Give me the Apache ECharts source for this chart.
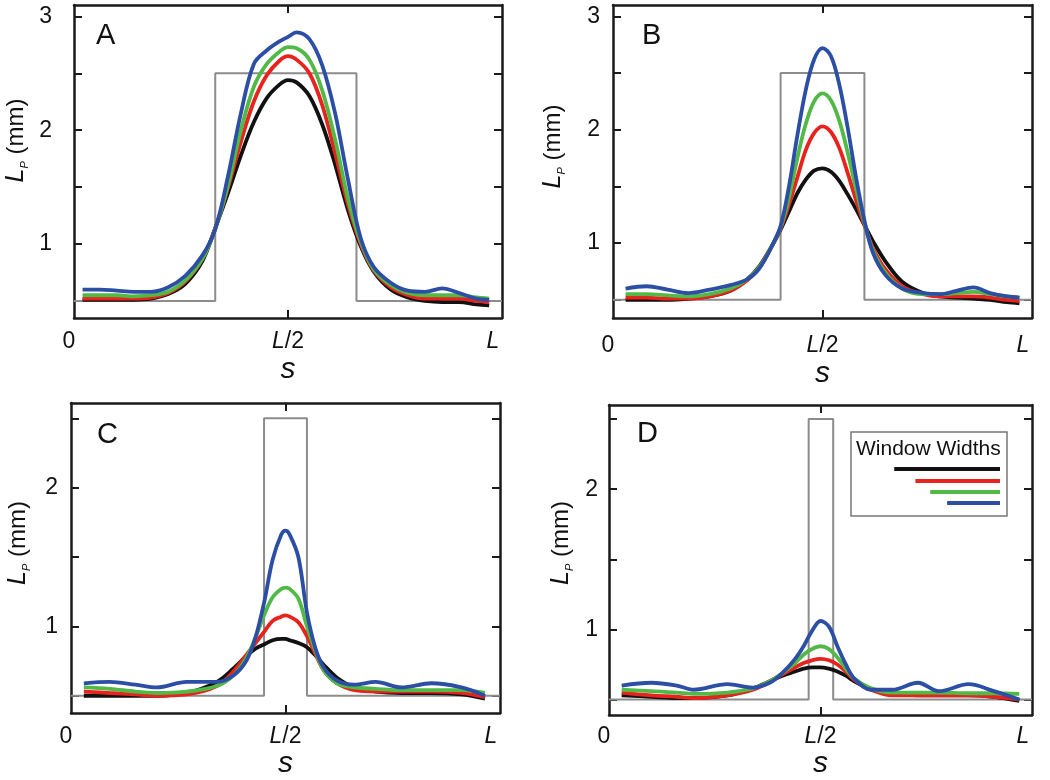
<!DOCTYPE html>
<html>
<head>
<meta charset="utf-8">
<script src="https://cdn.jsdelivr.net/npm/echarts@6/dist/echarts.min.js"></script>
<style>html,body{margin:0;padding:0;background:#fff;}#c{width:1050px;height:780px;}</style>
</head>
<body>
<div id="c"></div>
<script>
// ---------- data ----------
const sA = [0.02,0.06,0.10,0.14,0.18,0.22,0.26,0.30,0.33,0.36,0.39,0.42,0.45,0.48,0.50,0.52,0.55,0.58,0.61,0.64,0.67,0.70,0.74,0.78,0.82,0.86,0.90,0.94,0.97];
const blackA = [0.51,0.51,0.51,0.51,0.52,0.56,0.65,0.85,1.14,1.45,1.78,2.07,2.28,2.40,2.44,2.42,2.30,2.05,1.70,1.30,0.98,0.76,0.60,0.53,0.50,0.49,0.49,0.47,0.46];
const redA   = [0.52,0.52,0.52,0.52,0.53,0.57,0.67,0.87,1.14,1.50,1.90,2.25,2.48,2.61,2.65,2.62,2.50,2.22,1.80,1.35,1.00,0.77,0.62,0.55,0.52,0.52,0.52,0.50,0.49];
const greenA = [0.55,0.55,0.55,0.54,0.55,0.58,0.68,0.87,1.13,1.52,2.00,2.38,2.58,2.69,2.73,2.72,2.62,2.35,1.92,1.40,1.02,0.78,0.64,0.57,0.55,0.55,0.55,0.53,0.52];
const blueA  = [0.60,0.60,0.59,0.58,0.58,0.62,0.72,0.90,1.13,1.60,2.15,2.58,2.70,2.78,2.82,2.86,2.80,2.57,2.15,1.57,1.05,0.80,0.66,0.59,0.58,0.61,0.57,0.52,0.51];

const sB = [0.03,0.08,0.13,0.18,0.23,0.28,0.32,0.35,0.38,0.40,0.42,0.44,0.46,0.48,0.50,0.52,0.54,0.56,0.58,0.60,0.62,0.65,0.69,0.74,0.78,0.82,0.86,0.90,0.94,0.97];
const blackB = [0.50,0.50,0.50,0.51,0.53,0.58,0.68,0.80,0.98,1.12,1.28,1.44,1.56,1.64,1.66,1.63,1.55,1.43,1.30,1.16,1.02,0.84,0.66,0.56,0.53,0.52,0.51,0.50,0.48,0.47];
const redB   = [0.52,0.52,0.51,0.51,0.53,0.58,0.67,0.79,0.98,1.13,1.34,1.58,1.82,1.97,2.03,1.98,1.84,1.62,1.38,1.16,0.96,0.77,0.62,0.55,0.53,0.53,0.53,0.52,0.50,0.49];
const greenB = [0.55,0.55,0.54,0.53,0.55,0.60,0.68,0.79,0.98,1.14,1.40,1.75,2.05,2.25,2.32,2.26,2.08,1.80,1.48,1.18,0.94,0.74,0.60,0.55,0.55,0.56,0.57,0.55,0.53,0.52];
const blueB  = [0.60,0.62,0.59,0.56,0.59,0.63,0.68,0.78,0.98,1.15,1.50,1.95,2.35,2.62,2.72,2.65,2.40,2.02,1.58,1.20,0.92,0.72,0.60,0.56,0.55,0.58,0.61,0.56,0.53,0.52];

const sC = [0.03,0.09,0.15,0.20,0.27,0.34,0.38,0.41,0.43,0.45,0.47,0.49,0.50,0.51,0.53,0.55,0.57,0.59,0.62,0.66,0.71,0.77,0.84,0.91,0.965];
const blackC = [0.50,0.50,0.50,0.50,0.52,0.60,0.70,0.79,0.84,0.87,0.90,0.91,0.91,0.90,0.88,0.85,0.79,0.72,0.63,0.56,0.53,0.52,0.52,0.51,0.48];
const redC   = [0.53,0.52,0.51,0.50,0.51,0.57,0.68,0.80,0.88,0.96,1.04,1.07,1.08,1.07,1.03,0.93,0.80,0.68,0.59,0.54,0.53,0.53,0.53,0.52,0.49];
const greenC = [0.56,0.55,0.53,0.52,0.53,0.57,0.65,0.78,0.92,1.08,1.21,1.27,1.28,1.27,1.20,1.00,0.82,0.68,0.59,0.56,0.55,0.54,0.54,0.54,0.52];
const blueC  = [0.59,0.60,0.58,0.56,0.60,0.60,0.65,0.76,0.92,1.17,1.48,1.66,1.69,1.66,1.50,1.10,0.84,0.70,0.61,0.58,0.60,0.56,0.59,0.56,0.50];

const sD = [0.03,0.10,0.16,0.20,0.28,0.34,0.38,0.41,0.44,0.46,0.48,0.50,0.52,0.54,0.56,0.58,0.62,0.67,0.73,0.78,0.85,0.91,0.97];
const blackD = [0.53,0.52,0.51,0.51,0.53,0.58,0.63,0.67,0.70,0.72,0.73,0.73,0.72,0.70,0.67,0.63,0.57,0.54,0.53,0.53,0.53,0.52,0.49];
const redD   = [0.55,0.53,0.52,0.51,0.53,0.57,0.63,0.68,0.73,0.76,0.78,0.79,0.78,0.75,0.70,0.64,0.57,0.53,0.53,0.53,0.53,0.52,0.50];
const greenD = [0.57,0.56,0.55,0.54,0.55,0.58,0.63,0.69,0.76,0.82,0.86,0.88,0.86,0.80,0.72,0.65,0.58,0.55,0.55,0.55,0.545,0.545,0.54];
const blueD  = [0.60,0.62,0.60,0.57,0.61,0.585,0.62,0.69,0.79,0.88,0.99,1.06,1.02,0.88,0.75,0.65,0.57,0.57,0.62,0.56,0.61,0.56,0.50];

// window profiles (rectangles): [left edge, right edge] in units of L
const windowA = [0.33, 0.66];
const windowB = [0.40, 0.60];
const windowC = [0.45, 0.55];
const windowD = [0.472, 0.53];
const windowBase = 0.5;
const windowTop = 2.5;

// legend: window widths (in units of L) for black, red, green, blue
const legendWidths = [0.25, 0.20, 0.165, 0.125];
const legendTitle = 'Window Widths';

const panelLetters = ['A', 'B', 'C', 'D'];
const xTickValues = [0, 0.5, 1];
const xTickLabels = ['{z|0}', '{i|L}/2', '{e|L}'];
const yTickValues = [0.5, 1, 1.5, 2, 2.5, 3];
const yLabelValuesAB = [1, 2, 3];
const yLabelValuesCD = [1, 2];
const yRangeA = [0.35, 3.1];
const yRangeB = [0.34, 3.1];
const yRangeC = [0.375, 2.61];
const yRangeD = [0.39, 2.6];

// ---------- styling ----------
const COLORS = ['#111111', '#e8231d', '#52b947', '#2c4ea5'];
const GRAY = '#8c8c8c';
const FONT = 'Liberation Sans, Arial, Helvetica, sans-serif';

const panels = [
  {s: sA, ys: [blackA, redA, greenA, blueA], win: windowA, yr: yRangeA, yl: yLabelValuesAB,
   grid: {left: 74, top: 5, width: 428, height: 313}, ylm: 22, ynGap: 44, ynShift: 21, xlm: 12, xnGap: 37,
   letter: [96, 37]},
  {s: sB, ys: [blackB, redB, greenB, blueB], win: windowB, yr: yRangeB, yl: yLabelValuesAB,
   grid: {left: 613, top: 5, width: 419, height: 313}, ylm: 13, ynGap: 46, ynShift: 15, xlm: 16, xnGap: 41,
   letter: [642, 37]},
  {s: sC, ys: [blackC, redC, greenC, blueC], win: windowC, yr: yRangeC, yl: yLabelValuesCD,
   grid: {left: 71, top: 403, width: 429, height: 315}, ylm: 13, ynGap: 39, ynShift: 15, xlm: 12, xnGap: 35,
   letter: [97, 436]},
  {s: sD, ys: [blackD, redD, greenD, blueD], win: windowD, yr: yRangeD, yl: yLabelValuesCD,
   grid: {left: 609, top: 405, width: 423, height: 311}, ylm: 11, ynGap: 34, ynShift: 17, xlm: 10, xnGap: 34,
   letter: [637, 435]}
];

const grids = [], xAxes = [], yAxes = [], series = [], graphics = [];
const axisLineStyle = {color: '#1a1a1a', width: 2.5};
const tickStyle = {color: '#1a1a1a', width: 2};
const TICK_LEN = 8;

panels.forEach((p, k) => {
  grids.push(Object.assign({containLabel: false}, p.grid));
  const yTicks = yTickValues.filter(v => v >= p.yr[0] && v <= p.yr[1]);
  // bottom x axis
  xAxes.push({
    type: 'value', gridIndex: k, position: 'bottom', min: 0, max: 1,
    axisLine: {show: true, onZero: false, lineStyle: axisLineStyle},
    axisTick: {show: true, inside: true, length: TICK_LEN, lineStyle: tickStyle, customValues: [0.5]},
    splitLine: {show: false},
    axisLabel: {
      show: true, margin: p.xlm, customValues: xTickValues, showMinLabel: true, showMaxLabel: true,
      color: '#111', fontFamily: FONT, fontSize: 23,
      formatter: v => xTickLabels[xTickValues.indexOf(+v.toFixed(2))] || '',
      rich: {
        i: {fontStyle: 'italic', fontFamily: FONT, fontSize: 23, color: '#111'},
        z: {fontFamily: FONT, fontSize: 23, color: '#111', padding: [0, 10, 0, 0]},
        e: {fontStyle: 'italic', fontFamily: FONT, fontSize: 23, color: '#111', padding: [0, 18, 0, 0]}
      }
    },
    name: 's', nameLocation: 'middle', nameGap: p.xnGap,
    nameTextStyle: {fontStyle: 'italic', fontFamily: FONT, fontSize: 30, color: '#111'}
  });
  // top x axis (frame)
  xAxes.push({
    type: 'value', gridIndex: k, position: 'top', min: 0, max: 1,
    axisLine: {show: true, onZero: false, lineStyle: axisLineStyle},
    axisTick: {show: true, inside: true, length: TICK_LEN, lineStyle: tickStyle, customValues: [0.5]},
    axisLabel: {show: false}, splitLine: {show: false}
  });
  // left y axis
  yAxes.push({
    type: 'value', gridIndex: k, position: 'left', min: p.yr[0], max: p.yr[1],
    axisLine: {show: true, onZero: false, lineStyle: axisLineStyle},
    axisTick: {show: true, inside: true, length: TICK_LEN, lineStyle: tickStyle, customValues: yTicks},
    splitLine: {show: false},
    axisLabel: {show: true, margin: p.ylm, customValues: p.yl, color: '#111', fontFamily: FONT, fontSize: 23},
    name: '{l|L}{p|P}{t| (mm)}', nameLocation: 'middle', nameRotate: 90, nameGap: p.ynGap,
    nameTextStyle: {
      fontFamily: FONT, fontSize: 24, color: '#111', padding: [0, 0, 0, 2 * p.ynShift],
      rich: {
        l: {fontStyle: 'italic', fontFamily: FONT, fontSize: 25, color: '#111', lineHeight: 28},
        p: {fontStyle: 'italic', fontFamily: FONT, fontSize: 11, color: '#111', verticalAlign: 'bottom', lineHeight: 22},
        t: {fontFamily: FONT, fontSize: 24, color: '#111', lineHeight: 28}
      }
    }
  });
  // right y axis (frame)
  yAxes.push({
    type: 'value', gridIndex: k, position: 'right', min: p.yr[0], max: p.yr[1],
    axisLine: {show: true, onZero: false, lineStyle: axisLineStyle},
    axisTick: {show: true, inside: true, length: TICK_LEN, lineStyle: tickStyle, customValues: yTicks},
    axisLabel: {show: false}, splitLine: {show: false}
  });

  const xi = 2 * k, yi = 2 * k;
  // window rectangle
  const w = p.win;
  series.push({
    type: 'line', xAxisIndex: xi, yAxisIndex: yi, showSymbol: false, silent: true,
    lineStyle: {color: GRAY, width: 2}, z: 1,
    data: [[0, windowBase], [w[0], windowBase], [w[0], windowTop], [w[1], windowTop], [w[1], windowBase], [1, windowBase]]
  });
  p.ys.forEach((arr, j) => {
    series.push({
      type: 'line', xAxisIndex: xi, yAxisIndex: yi, showSymbol: false, smooth: 0.35, silent: true,
      lineStyle: {color: COLORS[j], width: 3.8}, z: 2 + j,
      data: p.s.map((x, i) => [x, arr[i]])
    });
  });
  graphics.push({
    type: 'text', left: p.letter[0], top: p.letter[1] - 16,
    style: {text: panelLetters[k], font: '29px ' + FONT, fill: '#111'}
  });
});

// legend in panel D
const gD = panels[3].grid;
const legBox = {x: 851, y: 432, w: 156, h: 84};
const legRight = 1000;
const legYs = [469, 481, 492, 503];
const legChildren = [
  {type: 'rect', shape: {x: legBox.x, y: legBox.y, width: legBox.w, height: legBox.h},
   style: {fill: '#fff', stroke: '#777', lineWidth: 1.5}},
  {type: 'text', x: legBox.x + 5, y: 449,
   style: {text: legendTitle, font: '21px ' + FONT, fill: '#111', textVerticalAlign: 'middle', verticalAlign: 'middle'}}
];
legendWidths.forEach((lw, j) => {
  legChildren.push({type: 'line', shape: {x1: legRight - lw * gD.width, y1: legYs[j], x2: legRight, y2: legYs[j]},
    style: {stroke: COLORS[j], lineWidth: 3.8}});
});
graphics.push({type: 'group', children: legChildren, z: 100});

const chart = echarts.init(document.getElementById('c'), null, {renderer: 'canvas'});
chart.setOption({
  animation: false,
  backgroundColor: '#fff',
  grid: grids, xAxis: xAxes, yAxis: yAxes, series: series, graphic: graphics
});
</script>
</body>
</html>
